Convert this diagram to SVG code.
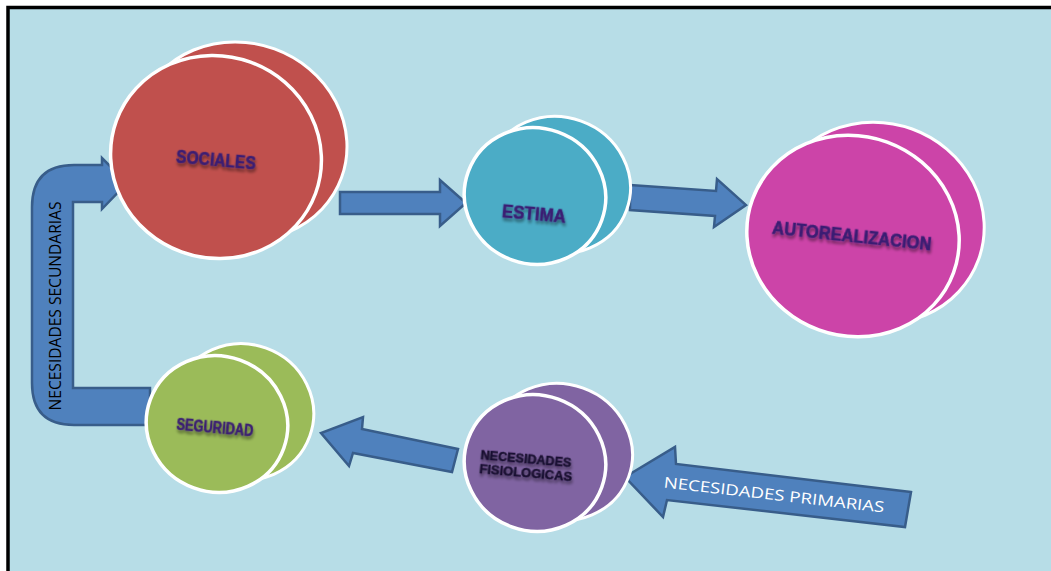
<svg xmlns="http://www.w3.org/2000/svg" width="1051" height="571" viewBox="0 0 1051 571">
  <style>
    .back { stroke: #ffffff; stroke-width: 3; }
    .front { stroke: #ffffff; stroke-width: 3.5; }
    .arrow { fill: #4F81BD; stroke: #385D8A; stroke-width: 2.5; stroke-linejoin: miter; }
    .lbl { font-family: "Liberation Sans", Arial, sans-serif; font-weight: bold; fill: #3B1F73; stroke: #3B1F73; stroke-width: 0.6; filter: url(#shadow); }
    .lbl2 { font-family: "Liberation Sans", Arial, sans-serif; font-weight: bold; fill: #1A1030; stroke: #1A1030; stroke-width: 0.5; filter: url(#shadow); }
    .arrtxt { font-family: "Open Sans", "Liberation Sans", sans-serif; }
  </style>
  <defs>
    <filter id="shadow" x="-20%" y="-50%" width="140%" height="250%">
      <feGaussianBlur in="SourceAlpha" stdDeviation="1.5" result="b"/>
      <feOffset in="b" dx="1" dy="3" result="o"/>
      <feComponentTransfer in="o" result="s"><feFuncA type="linear" slope="0.45"/></feComponentTransfer>
      <feMerge><feMergeNode in="s"/><feMergeNode in="SourceGraphic"/></feMerge>
    </filter>
  </defs>

  <!-- background & border -->
  <rect x="0" y="0" width="1051" height="571" fill="#ffffff"/>
  <rect x="8" y="7.5" width="1043" height="563.5" fill="#B7DDE7"/>
  <path d="M8,571 L8,7.5 L1051,7.5" fill="none" stroke="#000000" stroke-width="3.5"/>

  <!-- connectors -->
  <g id="connectors">
    <path class="arrow" d="M340,192 L440,192 L440,180 L466,203 L440,226 L440,214 L340,214 Z"/>
    <path class="arrow" d="M630,185 L716,191 L717,179 L746,205 L714,227 L715,216 L630,210 Z"/>
    <path class="arrow" d="M458,449 L362,429 L363,417 L321,433 L349,466 L353,453 L452,472 Z"/>
    <g id="primarias">
      <path class="arrow" d="M911,492 L676,464 L675,447 L625,477 L663,517 L667,500 L905,527 Z"/>
      <text class="arrtxt" x="774" y="500" font-size="15" fill="#ffffff" text-anchor="middle" textLength="222" lengthAdjust="spacingAndGlyphs" transform="rotate(6.5 774 495)">NECESIDADES PRIMARIAS</text>
    </g>
    <g id="secundarias">
      <path class="arrow" d="M150,388 L73,388 L73,202 L102,202 L102,209 L127,183 L102,158 L102,165 L74,165 Q32,165 32,207 L32,383 Q32,425 74,425 L150,425 Z"/>
      <text class="arrtxt" x="0" y="0" font-size="17" fill="#000000" text-anchor="middle" textLength="209" lengthAdjust="spacingAndGlyphs" transform="translate(61 306) rotate(-90)">NECESIDADES SECUNDARIAS</text>
    </g>
  </g>

  <!-- nodes -->
  <g id="sociales">
    <ellipse class="back" cx="241" cy="141" rx="107" ry="98" fill="#C0504D" transform="rotate(20 241 141)"/>
    <ellipse class="front" cx="216" cy="157" rx="106" ry="101" fill="#C0504D" transform="rotate(20 216 157)"/>
    <text class="lbl" x="216" y="166" font-size="18" text-anchor="middle" textLength="80" lengthAdjust="spacingAndGlyphs" transform="rotate(5 216 160)">SOCIALES</text>
  </g>

  <g id="estima">
    <ellipse class="back" cx="558" cy="185" rx="73" ry="68" fill="#4BACC6" transform="rotate(20 558 185)"/>
    <ellipse class="front" cx="535" cy="196" rx="71" ry="68" fill="#4BACC6" transform="rotate(20 535 196)"/>
    <text class="lbl" x="534" y="220" font-size="18" text-anchor="middle" textLength="64" lengthAdjust="spacingAndGlyphs" transform="rotate(5 534 213)">ESTIMA</text>
  </g>

  <g id="autorealizacion">
    <ellipse class="back" cx="878" cy="223" rx="107" ry="100" fill="#CC44A8" transform="rotate(20 878 223)"/>
    <ellipse class="front" cx="853" cy="236" rx="107" ry="100" fill="#CC44A8" transform="rotate(20 853 236)"/>
    <text class="lbl" x="852" y="242" font-size="18" text-anchor="middle" textLength="160" lengthAdjust="spacingAndGlyphs" transform="rotate(6 852 235)">AUTOREALIZACION</text>
  </g>

  <g id="seguridad">
    <ellipse class="back" cx="243" cy="412" rx="71" ry="68" fill="#9BBB59" transform="rotate(20 243 412)"/>
    <ellipse class="front" cx="217" cy="424" rx="71" ry="68" fill="#9BBB59" transform="rotate(20 217 424)"/>
    <text class="lbl" x="215" y="433" font-size="16" text-anchor="middle" textLength="77" lengthAdjust="spacingAndGlyphs" fill="#2A1650" transform="rotate(5 215 427)">SEGURIDAD</text>
  </g>

  <g id="fisiologicas">
    <ellipse class="back" cx="560" cy="452" rx="73" ry="68" fill="#8064A2" transform="rotate(20 560 452)"/>
    <ellipse class="front" cx="535" cy="463" rx="71" ry="68" fill="#8064A2" transform="rotate(20 535 463)"/>
    <text class="lbl2" font-size="13" textLength="91" lengthAdjust="spacingAndGlyphs" x="480" y="463" transform="rotate(5 525 465)">NECESIDADES</text>
    <text class="lbl2" font-size="13" textLength="93" lengthAdjust="spacingAndGlyphs" x="480" y="477" transform="rotate(5 525 465)">FISIOLOGICAS</text>
  </g>
</svg>
